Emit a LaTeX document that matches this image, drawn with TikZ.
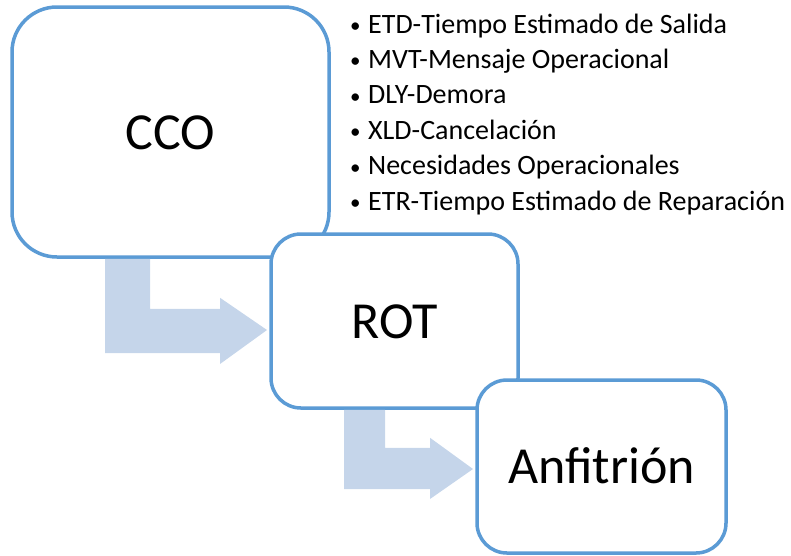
\documentclass[tikz,border=0pt]{standalone}
\usepackage{fontspec}
\setmainfont{Carlito}
\usetikzlibrary{positioning}
\definecolor{boxblue}{HTML}{5B9BD5}
\definecolor{flowblue}{HTML}{C5D5EA}
\newcommand{\itemdot}{\makebox[18pt][l]{\raisebox{0.5pt}{\fontsize{21}{21}\selectfont\textbullet}}}

\begin{document}
\begin{tikzpicture}[x=1pt, y=-1pt]
                \tikzstyle{box} = [shape=rectangle, draw=boxblue, fill=white, line width=3.5pt, outer sep=0pt, inner sep=0pt, font=\fontsize{52}{60}\selectfont, text height=34pt, text depth=0pt];
                \tikzstyle{flow} = [fill=flowblue];
                \tikzstyle{item} = [anchor=base west, inner sep=0pt, font=\fontsize{28}{34}\selectfont];

                \useasboundingbox (0,0) rectangle (791,555);

                \node[box, minimum width=317pt, minimum height=250pt, rounded corners=45pt](CCO) at (170.5,132) {CCO};
                \node[box, minimum width=247pt, minimum height=174pt, rounded corners=30pt](ROT) at (394.5,321) {ROT};
                \node[box, minimum width=249pt, minimum height=173pt, rounded corners=30pt](ANF) at (601.5,466.5) {Anfitrión};

                % bent arrows
                \coordinate (T1) at ([shift={(-4,9)}]ROT.west);
                \coordinate (T2) at ([shift={(-4,2.5)}]ANF.west);
                \fill[flow] ([shift={(93,1.75)}]CCO.south west) -- ++(45,0) -- ++(0,50) -- ++(70,0) -- ++(0,-11)
                    -- (T1) -- ++(-47,34) -- ++(0,-11) -- ++(-115,0) -- cycle;
                \fill[flow] ([shift={(73,1.75)}]ROT.south west) -- ++(41,0) -- ++(0,38) -- ++(45,0) -- ++(0,-10)
                    -- (T2) -- ++(-43,30) -- ++(0,-10) -- ++(-86,0) -- cycle;

                \node[item](I1) at (350,33) {\itemdot ETD-Tiempo Estimado de Salida};
                \node[item](I2) at (350,68.4) {\itemdot MVT-Mensaje Operacional};
                \node[item](I3) at (350,103.8) {\itemdot DLY-Demora};
                \node[item](I4) at (350,139.2) {\itemdot XLD-Cancelación};
                \node[item](I5) at (350,174.6) {\itemdot Necesidades Operacionales};
                \node[item](I6) at (350,210) {\itemdot ETR-Tiempo Estimado de Reparación};
            \end{tikzpicture}
\end{document}
